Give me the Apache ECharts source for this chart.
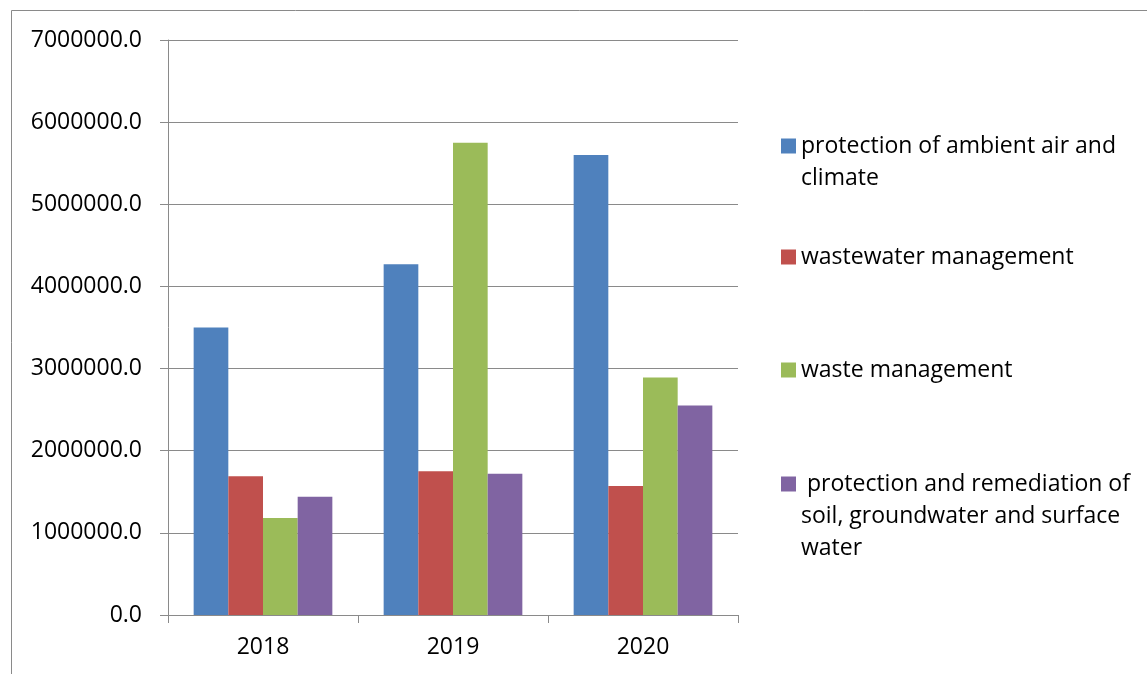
<!DOCTYPE html>
<html>
<head>
<meta charset="utf-8">
<script src="https://cdn.jsdelivr.net/npm/echarts@6/dist/echarts.min.js"></script>
<style>
  html, body { margin: 0; padding: 0; background: #ffffff; }
  #chart { width: 1147px; height: 674px; }
</style>
</head>
<body>
<div id="chart"></div>
<script>
// Environmental protection expenditure by domain, 2018–2020
const years = ['2018', '2019', '2020'];

const seriesNames = [
  'protection of ambient air and climate',
  'wastewater management',
  'waste management',
  ' protection and remediation of soil, groundwater and surface water'
];

// Legend text, broken over lines as displayed
const legendLines = [
  ['protection of ambient air and', 'climate'],
  ['wastewater management'],
  ['waste management'],
  [' protection and remediation of', 'soil, groundwater and surface', 'water']
];

const airClimate = [3500000, 4270000, 5600000];
const wastewater = [1690000, 1750000, 1570000];
const waste = [1180000, 5750000, 2890000];
const soilWater = [1440000, 1720000, 2550000];

const seriesValues = [airClimate, wastewater, waste, soilWater];
const seriesColors = ['#4F81BD', '#C0504D', '#9BBB59', '#8064A2'];

const yMin = 0;
const yMax = 7000000;
const yStep = 1000000;

const FONT = '"Open Sans", "Noto Sans", sans-serif';
const FONT_SIZE = 23;
const LINE_H = 32;
const GRID_COLOR = '#8a8a8a';

// Vertical centre of the first text line of each legend entry
const legendFirstLineY = [146, 257, 370, 484];

const chart = echarts.init(document.getElementById('chart'), null, { renderer: 'canvas' });

// One legend per entry; leading blank lines keep the marker beside the first
// line of wrapped text (legend text is centred on its marker)
const legends = seriesNames.map((name, i) => {
  const lines = legendLines[i];
  const blanks = lines.length - 1;
  const text = '\n'.repeat(blanks) + lines.join('\n');
  return {
    orient: 'vertical',
    left: 781,
    top: legendFirstLineY[i] - LINE_H / 2 - blanks * LINE_H,
    padding: 0,
    itemWidth: 15,
    itemHeight: 15,
    icon: 'rect',
    selectedMode: false,
    data: [name],
    formatter: () => text,
    textStyle: {
      color: '#000000',
      fontFamily: FONT,
      fontSize: FONT_SIZE,
      lineHeight: LINE_H
    }
  };
});

const series = seriesNames.map((name, i) => ({
  name: name,
  type: 'bar',
  data: seriesValues[i],
  barGap: '0%',
  barCategoryGap: '27%',
  itemStyle: { color: seriesColors[i] },
  emphasis: { disabled: true },
  animation: false
}));

chart.setOption({
  animation: false,
  backgroundColor: '#ffffff',
  color: seriesColors,
  textStyle: { fontFamily: FONT },
  grid: { left: 168, right: 409, top: 40, bottom: 59, containLabel: false },
  legend: legends,
  xAxis: {
    type: 'category',
    data: years,
    boundaryGap: true,
    axisLine: { show: true, lineStyle: { color: GRID_COLOR, width: 1 } },
    axisTick: { show: true, length: 8, inside: false, lineStyle: { color: GRID_COLOR, width: 1 } },
    axisLabel: { color: '#000000', fontFamily: FONT, fontSize: FONT_SIZE, margin: 21 },
    splitLine: { show: false }
  },
  yAxis: {
    type: 'value',
    min: yMin,
    max: yMax,
    interval: yStep,
    axisLine: { show: true, lineStyle: { color: GRID_COLOR, width: 1 } },
    axisTick: { show: true, length: 8, inside: false, lineStyle: { color: GRID_COLOR, width: 1 } },
    axisLabel: {
      color: '#000000',
      fontFamily: FONT,
      fontSize: FONT_SIZE,
      margin: 26,
      formatter: (v) => v.toFixed(1)
    },
    splitLine: { show: true, lineStyle: { color: GRID_COLOR, width: 1 } }
  },
  graphic: [
    {
      type: 'polyline',
      silent: true,
      shape: { points: [[11.5, 674], [11.5, 10.5], [1147, 10.5]] },
      style: { stroke: '#8a8a8a', lineWidth: 1, fill: null }
    }
  ],
  series: series
});
</script>
</body>
</html>
